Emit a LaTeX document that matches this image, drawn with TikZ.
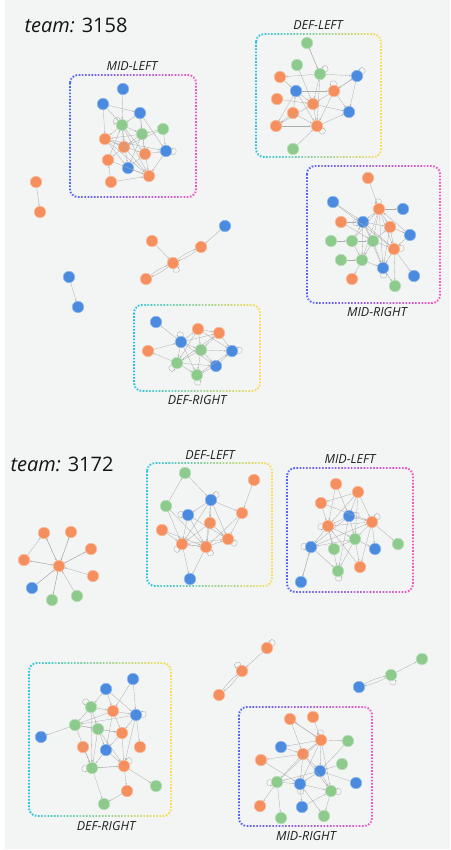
\documentclass[tikz,border=0pt]{standalone}
\usepackage{fontspec}
\setmainfont{Open Sans}
\usetikzlibrary{arrows.meta}

\definecolor{bgpanel}{HTML}{F3F4F4}
\definecolor{porange}{HTML}{F5905E}
\definecolor{pblue}{HTML}{4A8BDF}
\definecolor{pgreen}{HTML}{8CCB8C}
\definecolor{defA}{HTML}{22C4DC}
\definecolor{defB}{HTML}{FBDC50}
\definecolor{midA}{HTML}{4F63F2}
\definecolor{midB}{HTML}{F552C0}

\tikzset{
  player/.style={circle, minimum size=11.5pt, inner sep=0pt, line width=0.5pt},
  onode/.style={player, fill=porange, draw=porange!60!white},
  bnode/.style={player, fill=pblue, draw=pblue!60!white},
  gnode/.style={player, fill=pgreen, draw=pgreen!60!white},
  link/.style={draw=black!32, line width=0.3pt, -{Stealth[length=1.8pt,width=1.5pt]}},
  groupline/.style={line width=1.9pt, dash pattern=on 1.6pt off 1.6pt, rounded corners=8pt},
  grouplabel/.style={font=\fontsize{12.5}{14}\selectfont\itshape, text=black!88},
  teamtitle/.style={anchor=base west, font=\fontsize{20}{24}\selectfont, text=black!92}
}

% dotted frame whose colour runs from #5 (left) to #6 (right)
\newcommand{\gradbox}[6]{%
  \foreach \i in {0,...,29}{
    \pgfmathsetmacro{\xa}{#1+(#3-#1+6)*\i/30-3}
    \pgfmathsetmacro{\xb}{#1+(#3-#1+6)*(\i+1)/30-3}
    \pgfmathtruncatemacro{\pc}{100-\i*100/29}
    \begin{scope}
      \clip (\xa,#2-4) rectangle (\xb,#4+4);
      \draw[groupline, draw=#5!\pc!#6] (#1,#2) rectangle (#3,#4);
    \end{scope}
  }
}

\begin{document}
\begin{tikzpicture}[x=1pt, y=-1pt]
  \useasboundingbox (0,0) rectangle (450,850);
  \fill[white] (0,0) rectangle (450,850);
  \fill[bgpanel] (5,0) rectangle (450,849);

  % ---------------- team 3158 ----------------
  \node[teamtitle] (teamA) at (21,33) {\textit{team:} 3158};

  \gradbox{70}{75}{196}{197}{midA}{midB}
  \node[grouplabel] (mlA) at (132,66) {MID-LEFT};
  \gradbox{256}{34}{381}{157}{defA}{defB}
  \node[grouplabel] (dlA) at (318,25) {DEF-LEFT};
  \gradbox{307}{166}{440}{303}{midA}{midB}
  \node[grouplabel] (mrA) at (377,312) {MID-RIGHT};
  \gradbox{134}{305}{260}{391}{defA}{defB}
  \node[grouplabel] (drA) at (197,400) {DEF-RIGHT};

  % players
  \foreach \n/\x/\y/\s in {
    a1/123/89/bnode, a2/103/104/bnode, a3/140/113/bnode, a4/122/125/gnode,
    a5/163/129/gnode, a6/142/134/gnode, a7/105/139/onode, a8/124/147/onode,
    a9/145/154/onode, a10/166/151/bnode, a11/108/160/onode, a12/128/168/bnode,
    a13/149/176/onode, a14/111/182/onode,
    b1/307/43/gnode, b2/297/65/gnode, b3/320/74/gnode, b4/280/77/onode,
    b5/357/76/bnode, b6/296/91/bnode, b7/334/91/onode, b8/277/99/onode,
    b9/313/104/onode, b10/293/113/onode, b11/349/112/bnode, b12/276/126/onode,
    b13/317/126/onode, b14/293/149/gnode,
    c1/368/178/onode, c2/333/202/bnode, c3/379/209/onode, c4/403/209/bnode,
    c5/341/222/onode, c6/363/222/bnode, c7/390/227/onode, c8/410/235/bnode,
    c9/331/241/gnode, c10/352/241/gnode, c11/373/241/gnode, c12/394/249/onode,
    c13/341/260/gnode, c14/362/260/gnode, c15/383/268/bnode, c16/414/276/bnode,
    c17/352/279/onode, c18/395/286/gnode,
    d1/225/226/bnode, d2/201/247/onode, d3/152/241/onode, d4/173/263/onode,
    d5/146/279/onode, e1/69/277/bnode, e2/78/307/bnode,
    f1/36/182/onode, f2/40/212/onode,
    g1/156/322/bnode, g2/198/329/onode, g3/219/333/onode, g4/181/342/bnode,
    g5/148/351/onode, g6/201/350/gnode, g7/232/351/bnode, g8/177/363/gnode,
    g9/216/366/bnode, g10/197/375/gnode}
    \node[\s] (\n) at (\x,\y) {};

  % passes
  \foreach \a/\b in {
    a1/a4, a2/a3, a2/a4, a3/a4, a3/a6, a3/a10, a4/a6, a4/a7, a4/a8, a4/a9,
    a4/a13, a5/a6, a5/a10, a6/a7, a6/a8, a6/a12, a6/a13, a7/a8, a7/a9, a7/a10,
    a7/a12, a8/a11, a8/a13, a9/a12, a9/a10, a10/a13, a11/a13, a11/a4, a12/a13,
    a14/a13, a14/a11, a2/a7, a3/a9, a4/a12, a7/a13, a5/a8,
    b1/b3, b3/b1, b2/b9, b3/b4, b3/b5, b3/b13, b3/b9, b5/b7, b5/b11, b7/b5,
    b6/b7, b6/b9, b6/b13, b6/b12, b7/b11, b7/b13, b7/b9, b8/b9, b9/b11, b9/b12,
    b9/b13, b10/b13, b10/b12, b12/b13, b13/b11, b14/b13, b10/b6, b4/b6,
    c1/c3, c2/c6, c3/c4, c3/c6, c3/c7, c3/c11, c3/c12, c3/c14, c3/c15, c5/c6,
    c6/c11, c6/c12, c6/c15, c6/c7, c7/c8, c7/c12, c7/c15, c8/c12, c8/c3,
    c9/c10, c10/c11, c10/c14, c10/c6, c11/c12, c11/c14, c11/c15, c12/c15,
    c12/c16, c12/c18, c13/c14, c14/c15, c14/c17, c15/c18, c11/c7, c6/c14,
    c5/c11, c2/c12, c10/c3,
    d1/d2, d3/d4, e1/e2, f1/f2,
    g4/g1, g4/g2, g4/g6, g4/g8, g4/g10, g4/g3, g8/g5, g5/g4, g2/g3, g2/g6,
    g2/g7, g3/g7, g3/g6, g6/g7, g6/g8, g6/g9, g6/g10, g8/g9, g8/g10, g8/g3,
    g9/g10, g9/g7, g10/g7, g4/g9, g2/g8}
    \draw[link] (\a) -- (\b);
  \foreach \a/\b in {d2/d4, d4/d2, d4/d5, d5/d4}
    \draw[link] (\a) to[bend left=8] (\b);

  % own passes
  \foreach \n/\o/\i in {
    a4/110/170, a10/-30/20, b3/20/70, b5/20/70, b7/70/120, b13/-70/-20,
    c3/70/120, c12/-20/30, c15/-110/-60, c6/160/210, d4/-90/-40,
    g4/70/120, g8/200/250, g7/-20/30, g10/-110/-60}
    \draw[link] (\n.\o) .. controls +(\o:7pt) and +(\i:7pt) .. (\n.\i);

  % ---------------- team 3172 ----------------
  \node[teamtitle] (teamB) at (7,471) {\textit{team:} 3172};

  \gradbox{147}{463}{272}{586}{defA}{defB}
  \node[grouplabel] (dlB) at (210,455) {DEF-LEFT};
  \gradbox{287}{468}{413}{592}{midA}{midB}
  \node[grouplabel] (mlB) at (350,459) {MID-LEFT};
  \gradbox{29}{663}{171}{816}{defA}{defB}
  \node[grouplabel] (drB) at (106,826) {DEF-RIGHT};
  \gradbox{239}{707}{372}{826}{midA}{midB}
  \node[grouplabel] (mrB) at (306,836) {MID-RIGHT};

  % players
  \foreach \n/\x/\y/\s in {
    h0/59/566/onode, h1/44/533/onode, h2/71/532/onode, h3/91/549/onode,
    h4/24/560/onode, h5/93/576/onode, h6/32/588/bnode, h7/52/600/gnode,
    h8/77/596/gnode,
    i1/185/473/gnode, i2/254/480/onode, i3/211/500/bnode, i4/166/506/gnode,
    i5/188/515/bnode, i6/242/513/onode, i7/210/523/onode, i8/162/530/onode,
    i9/228/539/onode, i10/182/544/onode, i11/206/547/onode, i12/190/579/bnode,
    j1/336/484/onode, j2/358/492/onode, j3/321/503/onode, j4/349/516/bnode,
    j5/372/522/onode, j6/328/526/onode, j7/355/539/gnode, j8/311/547/bnode,
    j9/334/549/gnode, j10/375/549/bnode, j11/398/544/gnode, j12/360/567/onode,
    j13/338/571/gnode, j14/301/582/bnode,
    k1/267/648/onode, k2/242/671/onode, k3/219/695/onode,
    m1/359/687/bnode, m2/391/675/gnode, m3/422/659/gnode,
    n1/133/679/bnode, n2/106/689/bnode, n3/91/707/gnode, n4/113/711/onode,
    n5/136/715/bnode, n6/75/725/gnode, n7/98/729/gnode, n8/122/733/onode,
    n9/41/737/bnode, n10/83/747/onode, n11/106/750/bnode, n12/140/747/onode,
    n13/92/768/gnode, n14/124/766/onode, n15/156/786/gnode, n16/127/791/onode,
    n17/104/804/gnode,
    p1/290/719/onode, p2/313/717/onode, p3/321/740/onode, p4/348/741/gnode,
    p5/281/747/bnode, p6/303/754/onode, p7/261/760/onode, p8/342/764/gnode,
    p9/320/771/bnode, p10/277/782/gnode, p11/300/784/bnode, p12/356/783/bnode,
    p13/331/791/gnode, p14/260/806/onode, p15/302/807/bnode, p16/324/816/gnode,
    p17/281/818/gnode}
    \node[\s] (\n) at (\x,\y) {};

  % passes
  \foreach \a/\b in {
    h0/h1, h1/h0, h0/h2, h2/h0, h0/h3, h3/h0, h0/h4, h4/h0, h5/h0, h0/h6,
    h6/h0, h0/h7, h7/h0, h8/h0, h4/h1,
    i1/i3, i4/i1, i2/i6, i3/i5, i3/i6, i3/i10, i3/i11, i3/i7, i3/i9, i4/i10,
    i5/i10, i5/i11, i5/i9, i6/i9, i6/i11, i7/i10, i7/i11, i7/i9, i8/i10,
    i8/i11, i10/i11, i11/i10, i10/i12, i11/i12, i11/i9, i10/i9, i4/i11,
    j1/j6, j1/j4, j2/j3, j2/j4, j2/j6, j2/j7, j2/j5, j3/j5, j3/j6, j4/j5,
    j4/j6, j4/j7, j4/j13, j4/j8, j5/j6, j5/j7, j5/j10, j5/j11, j5/j12, j6/j7,
    j6/j8, j6/j9, j6/j13, j7/j8, j7/j10, j7/j12, j7/j13, j8/j13, j8/j14,
    j14/j8, j9/j7, j12/j6, j8/j5,
    k1/k2, m2/m3,
    n1/n4, n1/n5, n2/n3, n2/n4, n2/n5, n3/n6, n3/n4, n3/n7, n4/n5, n4/n6,
    n4/n8, n4/n11, n5/n8, n5/n12, n5/n14, n5/n6, n6/n9, n6/n7, n6/n8, n6/n13,
    n7/n8, n7/n11, n7/n13, n8/n11, n8/n14, n10/n13, n11/n13, n11/n14,
    n13/n14, n14/n13, n14/n15, n14/n16, n13/n17, n16/n17, n3/n13, n7/n14,
    p1/p3, p3/p1, p1/p6, p2/p3, p3/p4, p3/p5, p3/p6, p3/p9, p3/p11, p3/p13,
    p4/p9, p6/p7, p6/p9, p6/p10, p6/p11, p6/p13, p8/p9, p9/p10, p9/p11,
    p9/p13, p10/p11, p10/p14, p10/p17, p11/p13, p11/p15, p11/p16, p12/p9,
    p13/p16, p15/p13, p7/p11, p10/p3, p5/p6}
    \draw[link] (\a) -- (\b);
  \foreach \a/\b in {k2/k3, k3/k2, m1/m2, m2/m1}
    \draw[link] (\a) to[bend left=8] (\b);

  % own passes
  \foreach \n/\o/\i in {
    i3/20/70, i5/150/200, i10/200/250, i11/-80/-30, i9/-60/-10,
    j4/-20/30, j6/160/210, j8/150/200, j13/-110/-60, j5/20/70,
    k1/20/70, k2/100/150, m2/-100/-50,
    n3/110/160, n5/-20/30, n13/160/210, n14/20/70,
    p3/70/120, p10/160/210, p11/-110/-60, p13/-30/20}
    \draw[link] (\n.\o) .. controls +(\o:7pt) and +(\i:7pt) .. (\n.\i);
\end{tikzpicture}
\end{document}
